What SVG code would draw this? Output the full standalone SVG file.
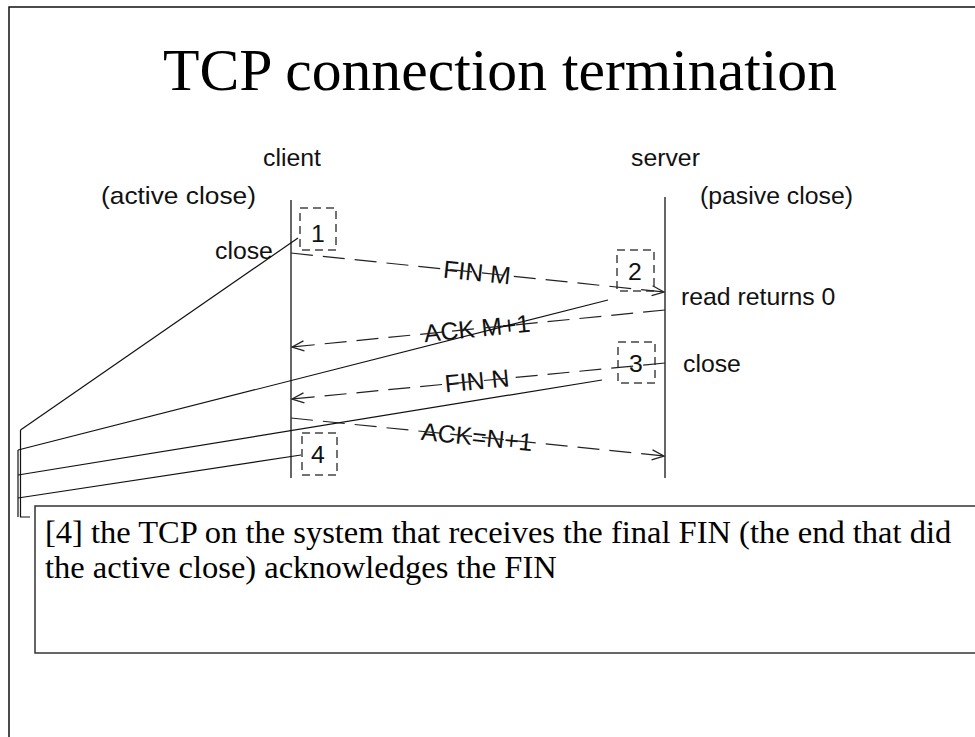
<svg xmlns="http://www.w3.org/2000/svg" width="975" height="737" viewBox="0 0 975 737">
  <style>
    .sans { font-family: "Liberation Sans", Arial, sans-serif; font-size: 24.8px; fill: #111; }
    .serif { font-family: "Liberation Serif", "Times New Roman", serif; fill: #000; }
    .life { stroke: #333; stroke-width: 1.5; fill: none; }
    .msg { stroke: #222; stroke-width: 1.2; fill: none; stroke-dasharray: 22 10; }
    .step { stroke: #444; stroke-width: 1.5; fill: none; stroke-dasharray: 8 5; }
    .callout { stroke: #111; stroke-width: 1.2; fill: none; }
    .frame { stroke: #111; stroke-width: 1.5; fill: none; }
  </style>
  <defs>
    <marker id="open" viewBox="0 0 14 12" refX="13" refY="6" markerWidth="14" markerHeight="12" markerUnits="userSpaceOnUse" orient="auto">
      <path d="M1,1 L13,6 L1,11" fill="none" stroke="#222" stroke-width="1.3"/>
    </marker>
  </defs>

  <rect width="975" height="737" fill="#fff"/>

  <!-- slide frame -->
  <path class="frame" d="M9,737 V7 H975"/>

  <!-- title -->
  <text class="serif" x="163" y="90" font-size="59.5" textLength="674" lengthAdjust="spacingAndGlyphs">TCP connection termination</text>

  <!-- endpoints -->
  <g id="client">
    <text class="sans" x="263" y="166">client</text>
    <text class="sans" x="101" y="204" textLength="155" lengthAdjust="spacingAndGlyphs">(active close)</text>
    <line class="life" x1="291" y1="200" x2="291" y2="478"/>
    <text class="sans" x="215" y="259">close</text>
  </g>
  <g id="server">
    <text class="sans" x="631" y="166">server</text>
    <text class="sans" x="700" y="204">(pasive close)</text>
    <line class="life" x1="665" y1="197" x2="665" y2="478"/>
    <text class="sans" x="681" y="305">read returns 0</text>
    <text class="sans" x="683" y="372">close</text>
  </g>

  <!-- numbered steps -->
  <g id="step1">
    <rect class="step" x="300" y="208" width="36" height="42"/>
    <text class="sans" x="318" y="242" text-anchor="middle">1</text>
  </g>
  <g id="step2">
    <rect class="step" x="617" y="250" width="37" height="41"/>
    <text class="sans" x="635" y="280" text-anchor="middle">2</text>
  </g>
  <g id="step3">
    <rect class="step" x="618" y="342" width="37" height="41"/>
    <text class="sans" x="636" y="372" text-anchor="middle">3</text>
  </g>
  <g id="step4">
    <rect class="step" x="302" y="433" width="35" height="42"/>
    <text class="sans" x="318" y="463" text-anchor="middle">4</text>
  </g>

  <!-- segment labels, set along their connectors -->
  <g id="labels">
    <text class="sans" text-anchor="middle" transform="translate(477,272.5) rotate(5.95)" y="8.5">FIN M</text>
    <text class="sans" text-anchor="middle" transform="translate(477,328.5) rotate(-5.65)" y="8.5">ACK M+1</text>
    <text class="sans" text-anchor="middle" transform="translate(477,381) rotate(-5.5)" y="8.5">FIN N</text>
    <text class="sans" text-anchor="middle" transform="translate(477,437) rotate(5.8)" y="8.5">ACK=N+1</text>
  </g>

  <!-- connectors -->
  <g id="connectors">
    <line class="msg" x1="291" y1="253" x2="664" y2="292" marker-end="url(#open)"/>
    <line class="msg" x1="665" y1="310" x2="292" y2="347" marker-end="url(#open)"/>
    <line class="msg" x1="665" y1="363" x2="292" y2="399" marker-end="url(#open)"/>
    <line class="msg" x1="291" y1="418" x2="664" y2="456" marker-end="url(#open)"/>

    <!-- callout bracket to the note -->
    <path class="callout" d="M20.5,430 V517 H30"/>
    <line class="callout" x1="18" y1="450" x2="18" y2="517"/>
    <line class="callout" x1="20.5" y1="430" x2="298" y2="238"/>
    <line class="callout" x1="18" y1="450" x2="608" y2="300"/>
    <line class="callout" x1="18" y1="475" x2="602" y2="380"/>
    <line class="callout" x1="18" y1="498" x2="301" y2="455"/>
  </g>

  <!-- note -->
  <g id="note">
    <rect x="35" y="506" width="960" height="147" fill="#fff" stroke="#333" stroke-width="1.5"/>
    <text class="serif" font-size="32.5" x="45" y="543">[4] the TCP on the system that receives the final FIN (the end that did</text>
    <text class="serif" font-size="32.5" x="45" y="578">the active close) acknowledges the FIN</text>
  </g>
</svg>
